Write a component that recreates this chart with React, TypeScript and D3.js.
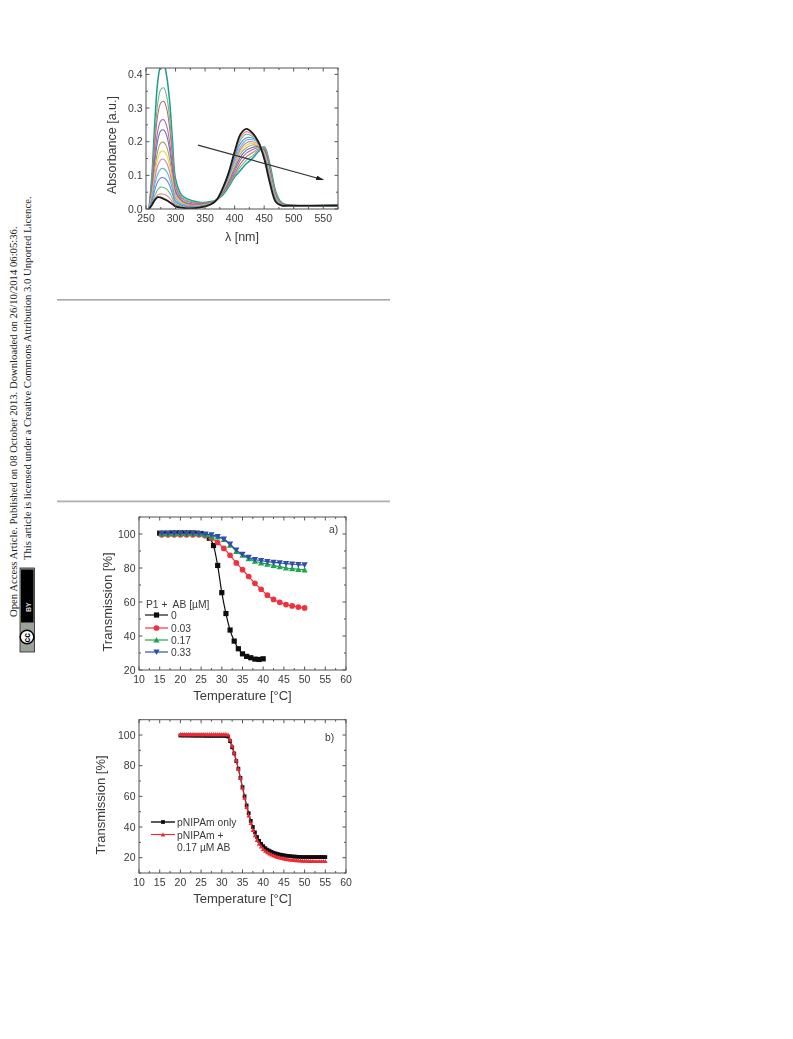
import React from "react";
import * as d3 from "d3";

// ---------- Panel 1: absorbance spectra ----------
const wavelengths = [255,260,265,270,275,280,285,290,295,300,310,320,340,360,370,380,390,400,410,420,430,440,450,460,470,480,490,575];
const specTeal = [0,.10,.26,.38,.425,.43,.395,.32,.20,.09,.042,.03,.02,.022,.028,.042,.066,.095,.115,.135,.15,.17,.185,.13,.05,.018,.012,.012];
const specGreen = [0,.085,.22,.315,.355,.36,.335,.27,.17,.076,.036,.025,.018,.02,.028,.045,.07,.10,.125,.145,.158,.175,.184,.124,.046,.016,.012,.012];
const specRed = [0,.075,.195,.28,.315,.32,.298,.24,.15,.068,.032,.022,.016,.019,.028,.047,.074,.105,.135,.155,.167,.178,.18,.118,.042,.015,.011,.011];
const specPurple = [0,.062,.16,.232,.262,.265,.247,.198,.125,.056,.027,.018,.014,.018,.028,.05,.078,.112,.146,.166,.176,.182,.177,.112,.038,.014,.011,.011];
const specIndigo = [0,.055,.142,.205,.232,.235,.218,.176,.11,.05,.024,.016,.012,.017,.028,.052,.082,.12,.155,.175,.183,.185,.174,.108,.036,.013,.011,.011];
const specOlive = [0,.047,.12,.173,.196,.198,.184,.148,.093,.042,.021,.014,.011,.016,.028,.054,.086,.128,.165,.182,.19,.188,.17,.104,.034,.013,.011,.011];
const specYellow = [0,.04,.104,.15,.17,.172,.16,.128,.08,.037,.019,.012,.01,.016,.028,.056,.09,.135,.172,.19,.195,.191,.167,.10,.032,.012,.01,.01];
const specMagenta = [0,.035,.09,.13,.146,.148,.137,.11,.07,.032,.016,.011,.009,.015,.028,.057,.093,.14,.178,.197,.2,.194,.163,.096,.03,.012,.01,.01];
const specCyan = [0,.028,.073,.105,.119,.12,.111,.09,.056,.026,.014,.009,.008,.015,.028,.058,.096,.147,.185,.205,.206,.197,.16,.092,.028,.011,.01,.01];
const specBlue = [0,.022,.057,.082,.092,.093,.086,.07,.044,.021,.011,.007,.007,.014,.028,.059,.099,.153,.195,.212,.211,.199,.157,.088,.027,.011,.01,.01];
const specMint = [0,.016,.04,.058,.065,.064,.059,.048,.031,.015,.008,.005,.006,.014,.028,.06,.102,.16,.205,.222,.216,.201,.154,.084,.025,.011,.01,.01];
const specPink = [0,.012,.03,.042,.045,.044,.04,.032,.021,.011,.006,.004,.005,.014,.028,.061,.105,.165,.213,.23,.221,.202,.152,.08,.022,.01,.01,.01];
const specBlack = [0,.012,.027,.035,.034,.03,.026,.02,.014,.008,.004,.002,.004,.014,.028,.062,.108,.17,.222,.238,.226,.2,.15,.075,.02,.01,.01,.01];
const spectra = [specTeal,specGreen,specRed,specPurple,specIndigo,specOlive,specYellow,specMagenta,specCyan,specBlue,specMint,specPink,specBlack];
const spectraColors = ["#1d9c90","#6dba8c","#c8696b","#a96cb2","#6d6cb8","#a3a55f","#ebd945","#d97cc4","#52c1d9","#6c82d8","#5fc184","#f0828f","#1a1a1a"];
const arrowFrom = [338, 0.19];
const arrowTo = [550, 0.087];

// ---------- Panel a ----------
const aXBlack = [15,16,17,18,19,20,21,22,23,24,25,26,27,28,29,30,31,32,33,34,35,36,37,38,39,40];
const aYBlack = [100.5,100.5,100.5,100.6,100.6,100.6,100.6,100.6,100.6,100.5,100.3,99.5,97.5,93.2,81.5,65.5,53.2,43.5,37,32.5,29.5,28,27.2,26.4,26.2,26.6];
const aXShared = [15.5,17,18.5,20,21.5,23,24.5,26,27.5,29,30.5,32,33.5,35,36.5,38,39.5,41,42.5,44,45.5,47,48.5,50];
const aYRed = [99.5,99.5,99.5,99.5,99.5,99.5,99.5,99,97.5,95,91.5,87.5,83,79,75,71,67.5,64,61.5,59.8,58.5,57.7,57,56.5];
const aYGreen = [100,100,100,100,100.2,100.2,100,99.5,98.5,98.3,96.8,93.5,89.8,87.5,85.5,84,83,82.3,81.5,80.8,80,79.6,79.2,78.9];
const aYBlue = [100.3,100.3,100.3,100.3,100.3,100.3,100.3,100,99.5,98.5,97,94,90.5,88,86.2,85,84.3,83.8,83.3,83,82.6,82.3,82,81.8];
const aLegendLabels = ["0","0.03","0.17","0.33"];

// ---------- Panel b ----------
const bX = [20,20.5,21,21.5,22,22.5,23,23.5,24,24.5,25,25.5,26,26.5,27,27.5,28,28.5,29,29.5,30,30.5,31,31.5,32,32.5,33,33.5,34,34.5,35,35.5,36,36.5,37,37.5,38,38.5,39,39.5,40,40.5,41,41.5,42,42.5,43,43.5,44,44.5,45,45.5,46,46.5,47,47.5,48,48.5,49,49.5,50,50.5,51,51.5,52,52.5,53,53.5,54,54.5,55];
const bYBlack = [99.7,99.7,99.7,99.7,99.7,99.7,99.6,99.6,99.6,99.6,99.6,99.6,99.5,99.5,99.5,99.5,99.5,99.5,99.5,99.5,99.5,99.5,99.4,99,96,92,88,83,78,72,66,60,54,49,44,40,36.5,33.5,31,29,27.5,26.2,25.2,24.5,23.8,23.2,22.8,22.4,22,21.8,21.5,21.3,21.1,21,20.8,20.7,20.6,20.5,20.5,20.4,20.4,20.4,20.4,20.4,20.4,20.4,20.4,20.4,20.4,20.4,20.4];
const bYRed = [100.5,100.5,100.5,100.5,100.5,100.5,100.5,100.5,100.5,100.5,100.5,100.5,100.5,100.5,100.5,100.5,100.5,100.5,100.5,100.5,100.5,100.5,100.5,100.2,97,93,88.5,83.5,78,72,65.5,59,53,47.5,42.5,38,34.5,31.5,29,27.2,25.6,24.4,23.4,22.6,22,21.4,20.9,20.4,20,19.7,19.4,19.1,18.9,18.7,18.5,18.4,18.3,18.2,18.1,18,17.9,17.9,17.8,17.8,17.8,17.7,17.7,17.7,17.7,17.7,17.7];

// ---------- Page text ----------
const sideLine1 = "Open Access Article. Published on 08 October 2013. Downloaded on 26/10/2014 06:05:36.";
const sideLine2 = "This article is licensed under a Creative Commons Attribution 3.0 Unported Licence.";
const xTicksAB = d3.range(10, 61, 5);
const sans = "'Liberation Sans', Arial, sans-serif";
const ink = "#3a3a3a";

type FrameProps = {
  x: any; y: any; xTicks: number[]; yTicks: number[]; xMinor: number[]; yMinor: number[];
  xFmt?: (v: number) => string; yFmt?: (v: number) => string;
  xTitle: React.ReactNode; yTitle: string; yTitleX: number; yTitleY: number; xTitleY: number; fontSize: number; titleSize: number;
};

function Frame({ x, y, xTicks, yTicks, xMinor, yMinor, xFmt = String, yFmt = String, xTitle, yTitle, yTitleX, yTitleY, xTitleY, fontSize, titleSize }: FrameProps) {
  const [x0, x1] = x.range();
  const [y0, y1] = y.range();
  const tl = 3.5, tm = 2;
  return (
    <g fontFamily={sans} fill={ink}>
      <rect x={x0} y={y1} width={x1 - x0} height={y0 - y1} fill="none" stroke="#555" strokeWidth={1} />
      {xTicks.map((t) => (
        <g key={"x" + t}>
          <line x1={x(t)} x2={x(t)} y1={y0} y2={y0 - tl} stroke="#555" />
          <line x1={x(t)} x2={x(t)} y1={y1} y2={y1 + tl} stroke="#555" />
          <text x={x(t)} y={y0 + fontSize + 2.5} textAnchor="middle" fontSize={fontSize}>{xFmt(t)}</text>
        </g>
      ))}
      {xMinor.map((t) => (
        <g key={"xm" + t}>
          <line x1={x(t)} x2={x(t)} y1={y0} y2={y0 - tm} stroke="#555" />
          <line x1={x(t)} x2={x(t)} y1={y1} y2={y1 + tm} stroke="#555" />
        </g>
      ))}
      {yTicks.map((t) => (
        <g key={"y" + t}>
          <line x1={x0} x2={x0 + tl} y1={y(t)} y2={y(t)} stroke="#555" />
          <line x1={x1} x2={x1 - tl} y1={y(t)} y2={y(t)} stroke="#555" />
          <text x={x0 - 3.5} y={y(t) + fontSize * 0.36} textAnchor="end" fontSize={fontSize}>{yFmt(t)}</text>
        </g>
      ))}
      {yMinor.map((t) => (
        <g key={"ym" + t}>
          <line x1={x0} x2={x0 + tm} y1={y(t)} y2={y(t)} stroke="#555" />
          <line x1={x1} x2={x1 - tm} y1={y(t)} y2={y(t)} stroke="#555" />
        </g>
      ))}
      <text x={(x0 + x1) / 2} y={xTitleY} textAnchor="middle" fontSize={titleSize}>{xTitle}</text>
      <text transform={`translate(${yTitleX},${yTitleY}) rotate(-90)`} textAnchor="middle" fontSize={titleSize}>{yTitle}</text>
    </g>
  );
}

function Marker({ kind, cx, cy, r, fill }: { kind: string; cx: number; cy: number; r: number; fill: string }) {
  if (kind === "square") return <rect x={cx - r} y={cy - r} width={2 * r} height={2 * r} fill={fill} />;
  if (kind === "circle") return <circle cx={cx} cy={cy} r={r * 1.1} fill={fill} />;
  if (kind === "up") return <path d={`M${cx},${cy - r * 1.2}L${cx + r * 1.2},${cy + r}L${cx - r * 1.2},${cy + r}Z`} fill={fill} />;
  return <path d={`M${cx},${cy + r * 1.2}L${cx + r * 1.2},${cy - r}L${cx - r * 1.2},${cy - r}Z`} fill={fill} />;
}

function Series({ xs, ys, x, y, color, kind, r, w }: any) {
  const line = d3.line<number>().x((d) => x(d)).y((_, i) => y(ys[i])).curve(d3.curveMonotoneX);
  return (
    <g>
      <path d={line(xs) || ""} fill="none" stroke={color} strokeWidth={w} />
      {xs.map((v: number, i: number) => (
        <Marker key={i} kind={kind} cx={x(v)} cy={y(ys[i])} r={r} fill={color} />
      ))}
    </g>
  );
}

export default function App() {
  // Panel 1
  const sx = d3.scaleLinear().domain([250, 575]).range([146, 338]);
  const sy = d3.scaleLinear().domain([0, 0.419]).range([209, 68]);
  const specLine = d3.line<number>().x((d) => sx(d)).curve(d3.curveCatmullRom.alpha(0.5));
  // Panel a
  const ax = d3.scaleLinear().domain([10, 60]).range([139, 346]);
  const ay = d3.scaleLinear().domain([20, 110]).range([670, 517]);
  // Panel b
  const bx = d3.scaleLinear().domain([10, 60]).range([139, 346]);
  const by = d3.scaleLinear().domain([10, 110]).range([873, 719.7]);

  const aSeries = [
    { xs: aXBlack, ys: aYBlack, color: "#111", kind: "square" },
    { xs: aXShared, ys: aYRed, color: "#ee3340", kind: "circle" },
    { xs: aXShared, ys: aYGreen, color: "#1fa64f", kind: "up" },
    { xs: aXShared, ys: aYBlue, color: "#2f4fae", kind: "down" },
  ];
  const legendY = [615, 628, 640, 652];

  return (
    <svg width={793} height={1039} style={{ position: "absolute", left: 0, top: 0 }}>
      <defs>
        <filter id="soft" x="-5%" y="-5%" width="110%" height="110%">
          <feGaussianBlur stdDeviation="0.55" />
        </filter>
        <clipPath id="specClip"><rect x={146} y={68} width={192} height={141} /></clipPath>
        <marker id="arrowHead" viewBox="0 0 10 6" refX="9" refY="3" markerWidth="8" markerHeight="5" markerUnits="userSpaceOnUse" orient="auto">
          <path d="M0,0L10,3L0,6Z" fill="#222" />
        </marker>
      </defs>
      <rect width={793} height={1039} fill="#fff" />

      {/* side notice */}
      <g fontFamily="'Liberation Serif', 'Times New Roman', serif" fontSize={10.7} fill="#222">
        <text transform="translate(16.5,617) rotate(-90)">{sideLine1}</text>
        <text transform="translate(30.5,560) rotate(-90)">{sideLine2}</text>
      </g>
      <g>
        <rect x={20} y={568} width={14.5} height={84} fill="#9aa39a" stroke="#222" strokeWidth={0.8} />
        <rect x={21} y={569.5} width={12.5} height={53} fill="#000" />
        <text transform="translate(30.5,612) rotate(-90)" fontFamily={sans} fontSize={7} fontWeight="bold" fill="#ddd">BY</text>
        <circle cx={27} cy={637} r={6.8} fill="#fff" stroke="#000" strokeWidth={1.5} />
        <text transform="translate(30,642.5) rotate(-90)" fontFamily={sans} fontSize={8.5} fontWeight="bold" fill="#000">cc</text>
      </g>

      {/* rules */}
      <rect x={57} y={299} width={333} height={1.6} fill="#a8a8a8" />
      <rect x={57} y={500.5} width={333} height={1.8} fill="#b0b0b0" />

      {/* Panel 1 */}
      <g filter="url(#soft)">
        <g clipPath="url(#specClip)">
          {spectra.map((ys, i) => (
            <path
              key={i}
              d={specLine.y((_, k) => sy(ys[k]))(wavelengths) || ""}
              fill="none"
              stroke={spectraColors[i]}
              strokeWidth={i === 0 ? 1.5 : i === spectra.length - 1 ? 1.8 : 1.1}
            />
          ))}
        </g>
        <Frame
          x={sx} y={sy}
          xTicks={[250,300,350,400,450,500,550]}
          xMinor={[275,325,375,425,475,525,575]}
          yTicks={[0,0.1,0.2,0.3,0.4]}
          yMinor={[0.05,0.15,0.25,0.35]}
          yFmt={(v) => v.toFixed(1)}
          xTitle={"λ [nm]"} yTitle="Absorbance [a.u.]"
          yTitleX={116} yTitleY={145} xTitleY={241} fontSize={10.5} titleSize={12.5}
        />
        <line x1={sx(arrowFrom[0])} y1={sy(arrowFrom[1])} x2={sx(arrowTo[0])} y2={sy(arrowTo[1])} stroke="#333" strokeWidth={1.2} markerEnd="url(#arrowHead)" />
      </g>

      {/* Panel a */}
      <g filter="url(#soft)">
        <Frame
          x={ax} y={ay}
          xTicks={xTicksAB}
          xMinor={d3.range(12.5, 60, 5)}
          yTicks={[20,40,60,80,100]}
          yMinor={[30,50,70,90,110]}
          xTitle="Temperature [°C]" yTitle="Transmission [%]"
          yTitleX={112} yTitleY={602} xTitleY={700} fontSize={10.5} titleSize={13}
        />
        {aSeries.map((s, i) => (
          <Series key={i} xs={s.xs} ys={s.ys} x={ax} y={ay} color={s.color} kind={s.kind} r={2.6} w={1.2} />
        ))}
        <g fontFamily={sans} fill={ink} fontSize={10.3}>
          <text x={146} y={607.5}>{"P1 +\u00A0 AB [µM]"}</text>
          {aSeries.map((s, i) => (
            <g key={i}>
              <line x1={145} x2={168} y1={legendY[i]} y2={legendY[i]} stroke={s.color} strokeWidth={1.2} />
              <Marker kind={s.kind} cx={156.5} cy={legendY[i]} r={2.6} fill={s.color} />
              <text x={171} y={legendY[i] + 3.6}>{aLegendLabels[i]}</text>
            </g>
          ))}
          <text x={329} y={533}>a)</text>
        </g>
      </g>

      {/* Panel b */}
      <g filter="url(#soft)">
        <Frame
          x={bx} y={by}
          xTicks={xTicksAB}
          xMinor={d3.range(12.5, 60, 5)}
          yTicks={[20,40,60,80,100]}
          yMinor={[10,30,50,70,90,110]}
          xTitle="Temperature [°C]" yTitle="Transmission [%]"
          yTitleX={105} yTitleY={805} xTitleY={903} fontSize={10.5} titleSize={13}
        />
        <Series xs={bX} ys={bYBlack} x={bx} y={by} color="#111" kind="square" r={1.9} w={1.2} />
        <Series xs={bX} ys={bYRed} x={bx} y={by} color="#ee2a35" kind="up" r={1.9} w={1} />
        <g fontFamily={sans} fill={ink} fontSize={10.3}>
          <line x1={151} x2={175} y1={822} y2={822} stroke="#111" strokeWidth={1.4} />
          <Marker kind="square" cx={163} cy={822} r={1.9} fill="#111" />
          <text x={177} y={826}>pNIPAm only</text>
          <line x1={151} x2={175} y1={834.5} y2={834.5} stroke="#ee2a35" strokeWidth={1.1} />
          <Marker kind="up" cx={163} cy={834.5} r={1.9} fill="#ee2a35" />
          <text x={177} y={838.5}>pNIPAm +</text>
          <text x={177} y={851}>0.17 µM AB</text>
          <text x={325} y={741}>b)</text>
        </g>
      </g>
    </svg>
  );
}
